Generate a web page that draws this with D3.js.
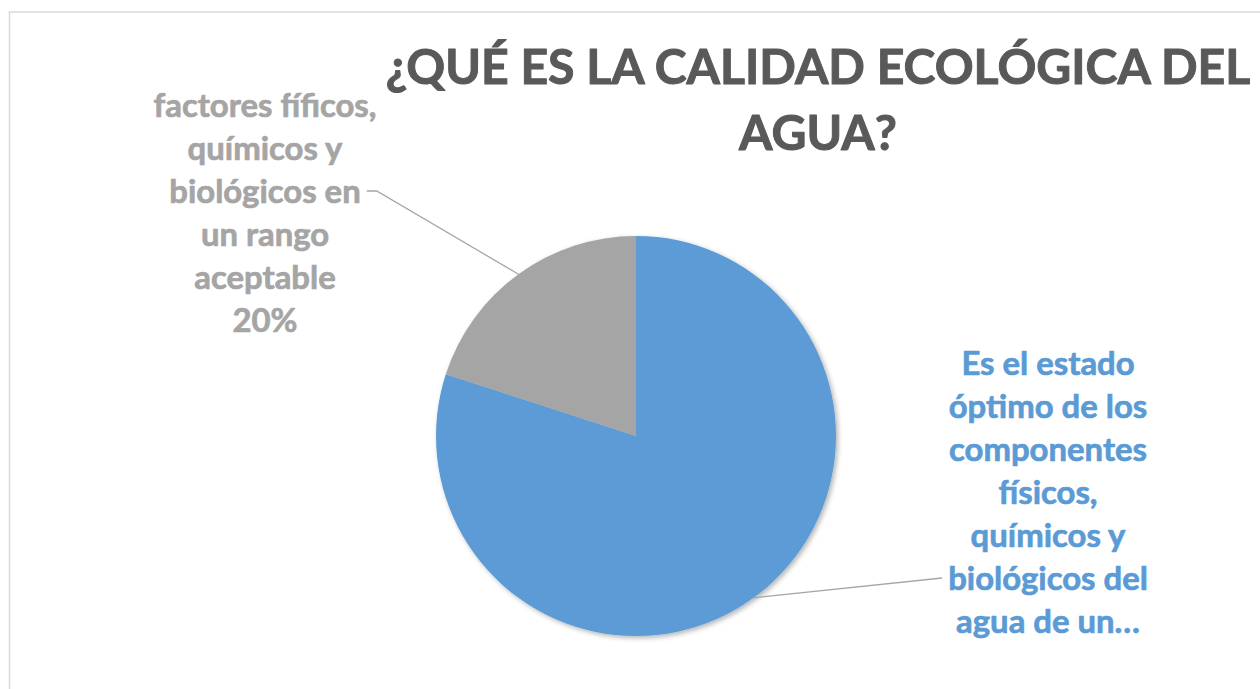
<!DOCTYPE html>
<html>
<head>
<meta charset="utf-8">
<script src="https://cdn.jsdelivr.net/npm/d3@7"></script>
<style>
  body { margin: 0; background: #fff; }
  svg { display: block; }
</style>
</head>
<body>
<div id="chart"></div>
<script>
// data
const categories = [
    "Es el estado óptimo de los componentes físicos, químicos y biológicos del agua de un...",
    "factores fíficos, químicos y biológicos en un rango aceptable"
];
const values = [80, 20];
const colors = ["#5b9bd5", "#a5a5a5"];
const labelLines = [
    ["Es el estado", "óptimo de los", "componentes", "físicos,", "químicos y", "biológicos del", "agua de un…"],
    ["factores fíficos,", "químicos y", "biológicos en", "un rango", "aceptable", "20%"]
];
const titleLines = ["¿QUÉ ES LA CALIDAD ECOLÓGICA DEL", "AGUA?"];

const fontFamily = "Lato, 'Open Sans', sans-serif";

function getTextWidth(text, font) {
    var canvas = getTextWidth.canvas || (getTextWidth.canvas = document.createElement("canvas"));
    var context = canvas.getContext("2d");
    context.font = font;
    return context.measureText(text).width;
}

// pick a font size so the text is the given width
function fitSize(text, target) {
    var w = getTextWidth(text, "bold 100px " + fontFamily);
    return 100 * target / w;
}

const width = 1260, height = 689;

const svg = d3.select("#chart")
    .append("svg")
    .attr("width", width)
    .attr("height", height);

// chart frame
svg.append("rect")
    .attr("x", 9.5)
    .attr("y", 12)
    .attr("width", 1300)
    .attr("height", 800)
    .attr("fill", "#fff")
    .attr("stroke", "#d9d9d9")
    .attr("stroke-width", 1.5);

const defs = svg.append("defs");
const shadow = defs.append("filter")
    .attr("id", "shadow")
    .attr("x", "-10%").attr("y", "-10%")
    .attr("width", "120%").attr("height", "120%");
shadow.append("feDropShadow")
    .attr("dx", 2).attr("dy", 2)
    .attr("stdDeviation", 2.5)
    .attr("flood-color", "#000")
    .attr("flood-opacity", 0.3);

// title
const titleSize = fitSize(titleLines[0], 868);
svg.selectAll("text.title")
    .data(titleLines)
    .enter()
    .append("text")
    .attr("class", "title")
    .attr("x", 818)
    .attr("y", (d, i) => 84 + i * 66)
    .attr("text-anchor", "middle")
    .attr("font-family", fontFamily)
    .attr("font-weight", "bold")
    .attr("font-size", titleSize + "px")
    .attr("fill", "#595959")
    .attr("stroke", "#595959")
    .attr("stroke-width", 1)
    .attr("stroke-linejoin", "round")
    .text(d => d);

// pie
const cx = 636, cy = 436, r = 200;
const pie = d3.pie().sort(null).value(d => d);
const arcs = pie(values);
const arc = d3.arc().innerRadius(0).outerRadius(r);

const g = svg.append("g")
    .attr("transform", `translate(${cx}, ${cy})`);

g.append("g")
    .attr("filter", "url(#shadow)")
    .selectAll("path")
    .data(arcs)
    .enter()
    .append("path")
    .attr("d", arc)
    .attr("fill", (d, i) => colors[i]);

// leader lines and labels
const labelSize = fitSize("componentes", 198);
const lineGap = 43;
const labelPos = [
    {x: 1048, y: 375, anchorLine: 5, side: 1},
    {x: 265, y: 117, anchorLine: 2, side: -1}
];

arcs.forEach(function (d, i) {
    const mid = (d.startAngle + d.endAngle) / 2;
    const px = cx + r * Math.sin(mid), py = cy - r * Math.cos(mid);
    const p = labelPos[i];
    const lines = labelLines[i];
    const ly = p.y + p.anchorLine * lineGap - 12;
    const lw = getTextWidth(lines[p.anchorLine], "bold " + labelSize + "px " + fontFamily);
    const edge = p.x + p.side * (-lw / 2 - 6);
    let pts;
    if (p.side > 0) {
        pts = [[px, py], [edge, ly]];
    } else {
        pts = [[px, py], [edge + 10, ly], [edge, ly]];
    }
    svg.append("path")
        .attr("d", d3.line()(pts))
        .attr("fill", "none")
        .attr("stroke", "#a6a6a6")
        .attr("stroke-width", 1.3);

    svg.selectAll("text.lab" + i)
        .data(lines)
        .enter()
        .append("text")
        .attr("class", "lab" + i)
        .attr("x", p.x)
        .attr("y", (t, j) => p.y + j * lineGap)
        .attr("text-anchor", "middle")
        .attr("font-family", fontFamily)
        .attr("font-weight", "bold")
        .attr("font-size", labelSize + "px")
        .attr("fill", colors[i])
        .attr("stroke", colors[i])
        .attr("stroke-width", 0.7)
        .attr("stroke-linejoin", "round")
        .text(t => t);
});
</script>
</body>
</html>
